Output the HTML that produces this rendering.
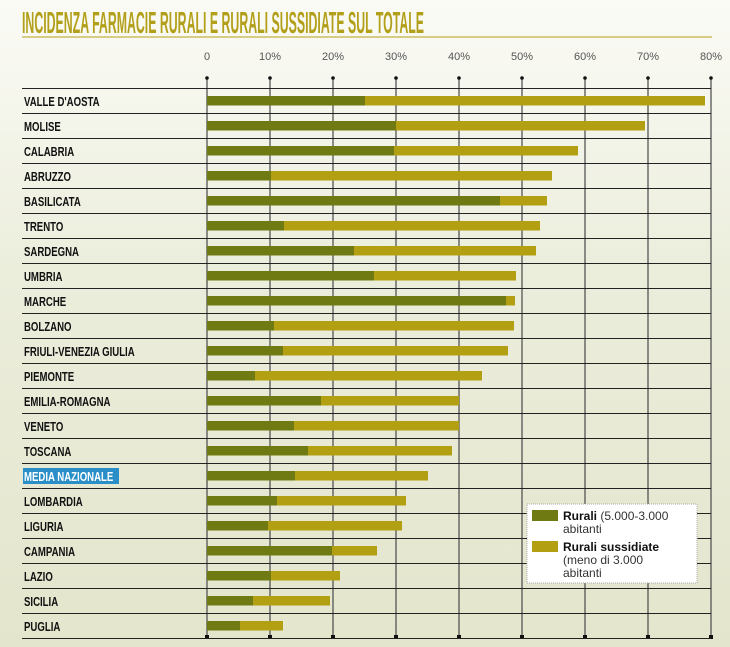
<!DOCTYPE html>
<html><head><meta charset="utf-8"><style>
html,body{margin:0;padding:0;}
body{width:730px;height:647px;overflow:hidden;background:linear-gradient(#fbfbf6,#eceedd 40%,#e3e5cc);}
</style></head><body>
<svg width="730" height="647" xmlns="http://www.w3.org/2000/svg" style="position:absolute;left:0;top:0">
<text x="22" y="33" font-family="Liberation Sans, sans-serif" font-weight="bold" font-size="31" fill="#b3a01a" textLength="402" lengthAdjust="spacingAndGlyphs">INCIDENZA FARMACIE RURALI E RURALI SUSSIDIATE SUL TOTALE</text>
<line x1="22" y1="37" x2="712" y2="37" stroke="#b3a01a" stroke-width="1"/>
<g font-family="Liberation Sans, sans-serif" font-size="11" fill="#555" text-anchor="middle">
<text x="207" y="60">0</text><text x="270" y="60">10%</text><text x="333" y="60">20%</text><text x="396" y="60">30%</text><text x="459" y="60">40%</text><text x="522" y="60">50%</text><text x="585" y="60">60%</text><text x="648" y="60">70%</text><text x="711" y="60">80%</text>
</g>
<g id="grid"></g>
<g id="bars"></g>
<g id="labels" font-family="Liberation Sans, sans-serif" font-weight="bold" font-size="13" fill="#111"></g>
<rect x="527" y="504" width="170" height="79" fill="#fff" stroke="#aaa" stroke-dasharray="1,1"/>
<rect x="532" y="510" width="26" height="11" fill="#6f7a12"/>
<rect x="532" y="541" width="26" height="11" fill="#b3a012"/>
<g font-family="Liberation Sans, sans-serif" font-size="12" fill="#333">
<text x="563" y="520"><tspan font-weight="bold" fill="#111">Rurali</tspan> (5.000-3.000</text>
<text x="563" y="533">abitanti</text>
<text x="563" y="551" font-weight="bold" fill="#111">Rurali sussidiate</text>
<text x="563" y="564">(meno di 3.000</text>
<text x="563" y="577">abitanti</text>
</g>
</svg>
<script>
const ns="http://www.w3.org/2000/svg";
function el(p,t,a){const e=document.createElementNS(ns,t);for(const k in a)e.setAttribute(k,a[k]);p.appendChild(e);return e;}
const grid=document.getElementById('grid'),bars=document.getElementById('bars'),labels=document.getElementById('labels');
for(let i=0;i<9;i++){const x=207+63*i;el(grid,'line',{x1:x,y1:78,x2:x,y2:637,stroke:'#555','stroke-width':1.3});el(grid,'circle',{cx:x,cy:78,r:1.8,fill:'#111'});el(grid,'rect',{x:x-2,y:635,width:4,height:4,fill:'#111'});}
for(let k=0;k<23;k++){const y=88.5+25*k;el(grid,'line',{x1:22,y1:y,x2:711,y2:y,stroke:'#222','stroke-width':1});}
const d=[["VALLE D'AOSTA",365,705],["MOLISE",396,645],["CALABRIA",394,578],["ABRUZZO",271,552],["BASILICATA",500,547],["TRENTO",284,540],["SARDEGNA",354,536],["UMBRIA",374,516],["MARCHE",506,515],["BOLZANO",274,514],["FRIULI-VENEZIA GIULIA",283,508],["PIEMONTE",255,482],["EMILIA-ROMAGNA",321,459],["VENETO",294,459],["TOSCANA",308,452],["MEDIA NAZIONALE",295,428],["LOMBARDIA",277,406],["LIGURIA",268,402],["CAMPANIA",332,377],["LAZIO",271,340],["SICILIA",253,330],["PUGLIA",240,283]];
d.forEach((r,i)=>{const c=101+25*i;
el(bars,'rect',{x:207,y:c-5,width:r[2]-207,height:9.5,fill:'#b3a012'});
el(bars,'rect',{x:207,y:c-5,width:r[1]-207,height:9.5,fill:'#6f7a12'});
if(i==15){el(labels,'rect',{x:23,y:c-8,width:96,height:16,fill:'#2a8fc8'});}
const t=el(labels,'text',{x:24,y:c+5,transform:`translate(24 0) scale(0.74 1) translate(-24 0)`});
if(i==15)t.setAttribute('fill','#fff');t.textContent=r[0];});
</script>
</body></html>
